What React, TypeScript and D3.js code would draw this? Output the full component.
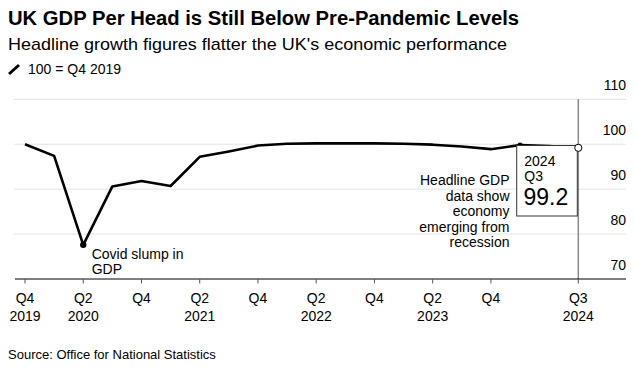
import React, { useEffect } from 'react';
import * as d3 from 'd3';

// quarterly GDP per head, 100 = Q4 2019
const quarters = [
  'Q4 2019', 'Q1 2020', 'Q2 2020', 'Q3 2020', 'Q4 2020',
  'Q1 2021', 'Q2 2021', 'Q3 2021', 'Q4 2021',
  'Q1 2022', 'Q2 2022', 'Q3 2022', 'Q4 2022',
  'Q1 2023', 'Q2 2023', 'Q3 2023', 'Q4 2023',
  'Q1 2024', 'Q2 2024', 'Q3 2024',
];
const gdpPerHead = [
  100, 97.4, 77.6, 90.6, 91.8,
  90.7, 97.2, 98.4, 99.7,
  100.1, 100.2, 100.2, 100.2,
  100.1, 99.9, 99.5, 98.9,
  99.8, 99.6, 99.2,
];
const xTickIndex = [0, 2, 4, 6, 8, 10, 12, 14, 16, 19];
const xTickLabels = [
  ['Q4', '2019'], ['Q2', '2020'], ['Q4', ''], ['Q2', '2021'], ['Q4', ''],
  ['Q2', '2022'], ['Q4', ''], ['Q2', '2023'], ['Q4', ''], ['Q3', '2024'],
];
const yTicks = [70, 80, 90, 100, 110];

const covidNote = ['Covid slump in', 'GDP'];
const headlineNote = ['Headline GDP', 'data show', 'economy', 'emerging from', 'recession'];

const FONT = '"Liberation Sans", Arial, sans-serif';

const App: React.FC = () => {
  useEffect(() => {
    document.body.style.margin = '0';
  }, []);

  const width = 635;
  const height = 367;
  const plotLeft = 14;
  const plotRight = 626;

  const x = d3.scaleLinear().domain([0, quarters.length - 1]).range([25, 578.3]);
  const y = d3.scaleLinear().domain([70, 110]).range([279, 99.3]);

  const line = d3.line<number>()
    .x((_, i) => x(i))
    .y(d => y(d));

  const last = gdpPerHead.length - 1;
  const covidIdx = gdpPerHead.indexOf(d3.min(gdpPerHead) as number);
  const noteIdx = 17;

  const boxX = 516.7;
  const boxY = 145.5;

  return (
    <svg width={width} height={height} style={{ display: 'block', fontFamily: FONT }}>
      <rect width={width} height={height} fill="#fff" />

      <text x={8} y={25} fontSize={20} fontWeight="bold" fill="#000"
        textLength={511} lengthAdjust="spacingAndGlyphs">
        UK GDP Per Head is Still Below Pre-Pandemic Levels
      </text>
      <text x={8} y={49.5} fontSize={17} fill="#000"
        textLength={499} lengthAdjust="spacingAndGlyphs">
        Headline growth figures flatter the UK's economic performance
      </text>

      {/* legend */}
      <line x1={9} y1={74} x2={19} y2={65} stroke="#000" strokeWidth={3} />
      <text x={28} y={74} fontSize={14} fill="#000">100 = Q4 2019</text>

      {/* gridlines */}
      {yTicks.filter(t => t !== 70).map(t => (
        <line key={t} x1={plotLeft} x2={plotRight} y1={y(t)} y2={y(t)} stroke="#e3e3e3" strokeWidth={1} />
      ))}
      {yTicks.map(t => (
        <text key={'l' + t} x={plotRight} y={y(t) - 9} fontSize={14} textAnchor="end" fill="#000">{t}</text>
      ))}

      {/* latest marker line */}
      <line x1={x(last)} x2={x(last)} y1={y(110)} y2={y(70)} stroke="#888" strokeWidth={1.5} />

      {/* x axis */}
      <line x1={plotLeft + 1} x2={plotRight} y1={y(70)} y2={y(70)} stroke="#000" strokeWidth={1} />
      {xTickIndex.map((idx, k) => (
        <g key={idx} transform={`translate(${x(idx)},0)`}>
          <line y1={y(70)} y2={y(70) + 4.5} stroke="#555" strokeWidth={1} />
          <text y={303.3} fontSize={14} textAnchor="middle" fill="#000">{xTickLabels[k][0]}</text>
          {xTickLabels[k][1] && (
            <text y={321} fontSize={14} textAnchor="middle" fill="#000">{xTickLabels[k][1]}</text>
          )}
        </g>
      ))}

      {/* series */}
      <path d={line(gdpPerHead) || ''} fill="none" stroke="#000" strokeWidth={2.6} strokeLinejoin="round" />

      <circle cx={x(covidIdx)} cy={y(gdpPerHead[covidIdx])} r={3.2} fill="#000" />
      <text fontSize={14} fill="#000">
        {covidNote.map((s, i) => (
          <tspan key={i} x={91.7} y={259.3 + i * 14.7}>{s}</tspan>
        ))}
      </text>

      <circle cx={x(noteIdx)} cy={y(gdpPerHead[noteIdx])} r={2.6} fill="#000" />
      <text fontSize={14} fill="#000" textAnchor="end">
        {headlineNote.map((s, i) => (
          <tspan key={i} x={509.5} y={185 + i * 15.6}>{s}</tspan>
        ))}
      </text>

      {/* latest value box */}
      <rect x={boxX} y={boxY} width={x(last) - 1 - boxX} height={70.5} fill="#fff" stroke="#333" strokeWidth={1} />
      <text x={524.3} y={165.7} fontSize={14} fill="#000">{quarters[last].split(' ')[1]}</text>
      <text x={524.3} y={181} fontSize={14} fill="#000">{quarters[last].split(' ')[0]}</text>
      <text x={523.5} y={205} fontSize={23} fill="#000">{gdpPerHead[last].toFixed(1)}</text>
      <circle cx={x(last)} cy={y(gdpPerHead[last])} r={3.6} fill="#fff" stroke="#000" strokeWidth={1} />

      <text x={8} y={359} fontSize={13} fill="#000">Source: Office for National Statistics</text>
    </svg>
  );
};

export default App;
